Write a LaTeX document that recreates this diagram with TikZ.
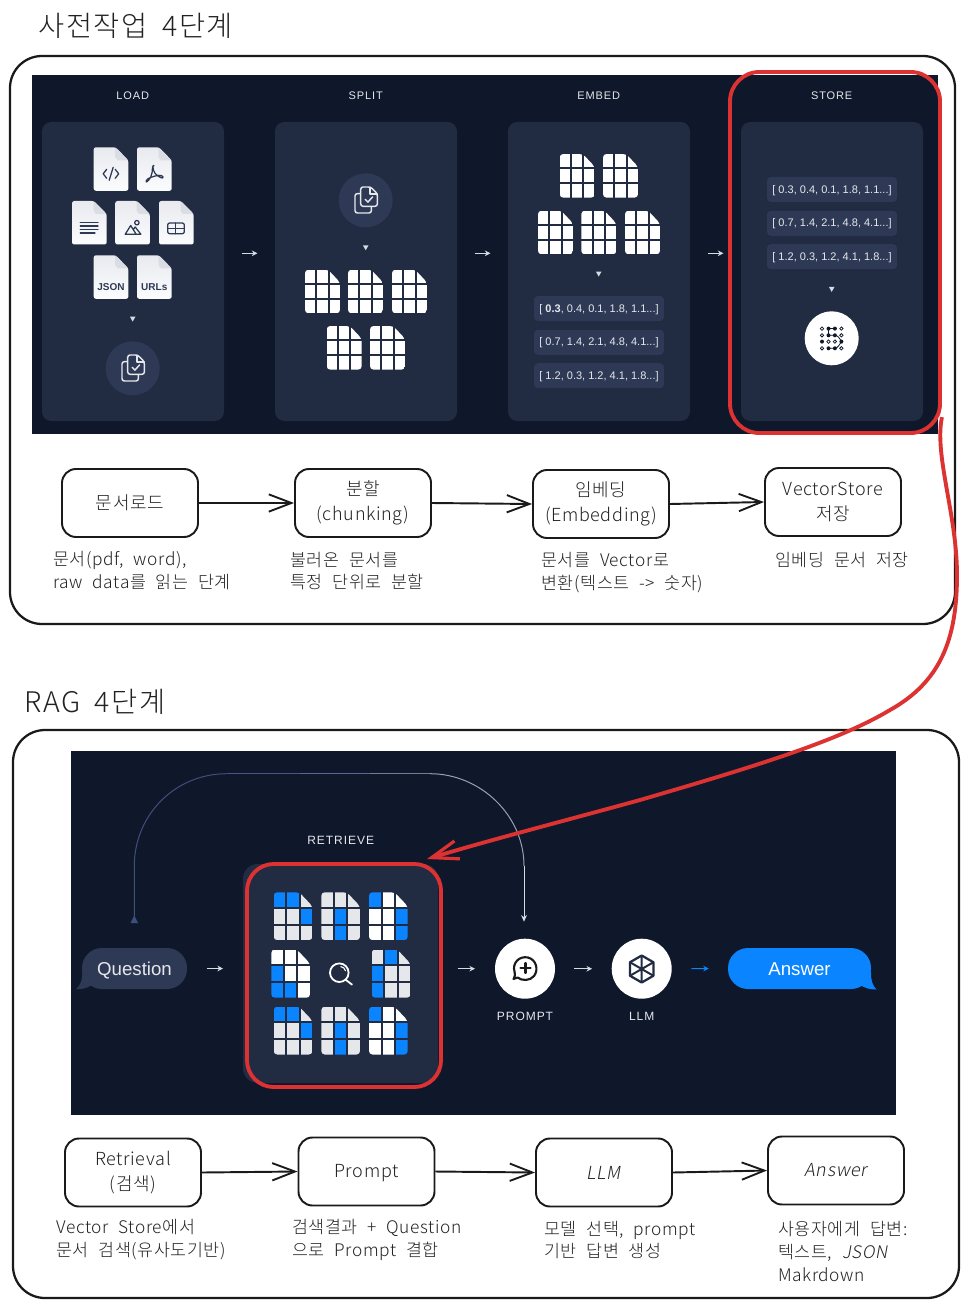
\documentclass[tikz,border=0pt]{standalone}
\usepackage{fontspec}
\usetikzlibrary{arrows.meta}
\setmainfont{Noto Sans CJK KR}
\newfontfamily\uifont{Liberation Sans}
\newfontfamily\capsfont[LetterSpace=8]{Liberation Sans}
\newfontfamily\handfont[LetterSpace=3.5,WordSpace=2.2]{Noto Sans CJK KR Light}
\newfontfamily\headfont[LetterSpace=6,WordSpace=1.8]{Noto Sans CJK KR Light}
\newfontfamily\slantfont[FakeSlant=0.18,LetterSpace=3.5,WordSpace=2.2]{Noto Sans CJK KR Light}
\newcommand{\lowertxt}[2]{\raisebox{-#1}[\height][\depth]{#2}}
\definecolor{bgdark}{HTML}{0F172A}
\definecolor{panelc}{HTML}{212B42}
\definecolor{pillc}{HTML}{2E3A55}
\definecolor{blueb}{HTML}{0A84FF}
\definecolor{cellG}{HTML}{E5E7EB}
\definecolor{cellW}{HTML}{FFFFFF}
\definecolor{redm}{HTML}{DC3232}
\definecolor{ink}{HTML}{1A1A1A}
\definecolor{soft}{HTML}{222222}
\definecolor{lite}{HTML}{D5DAE3}
\definecolor{docT}{HTML}{FBFCFD}
\definecolor{docB}{HTML}{E8EAEF}
\definecolor{iconc}{HTML}{2E3A55}
\tikzset{
  frameline/.style={draw=ink,line width=1.7pt,rounded corners=24pt},
  panel/.style={fill=panelc,rounded corners=7pt,inner sep=0pt,minimum width=136.5pt,minimum height=224.25pt},
  pill/.style={fill=pillc,rounded corners=3pt,inner sep=0pt,minimum width=97.5pt,minimum height=18.75pt,text=cellG,font=\uifont\fontsize{8.25}{10}\selectfont},
  capslabel/.style={text=cellG,font=\capsfont\fontsize{8.25}{10}\selectfont,inner sep=0pt},
  capsbig/.style={text=cellG,font=\capsfont\fontsize{9}{11}\selectfont,inner sep=0pt},
  flowbox/.style={draw=ink,line width=1.45pt,rounded corners=10.5pt,minimum width=102pt,minimum height=51pt,inner sep=0pt,align=center,text=soft,font=\handfont\fontsize{13.5}{18.75}\selectfont},
  flowarrow/.style={draw=ink,line width=1.45pt,-{Straight Barb[length=17pt,width=13pt,line width=1.4pt]}},
  desc/.style={anchor=base west,inner sep=0pt,text=soft,font=\handfont\fontsize{13}{15}\selectfont},
  heading/.style={anchor=base west,inner sep=0pt,text=soft,font=\headfont\fontsize{21.3}{24}\selectfont},
  tinyarrow/.style={draw=lite,line width=0.8pt,-{Stealth[length=4.2pt,width=4.2pt]},shorten <=13pt,shorten >=13pt},
  redline/.style={draw=redm,line width=2.9pt},
  iconline/.style={draw=iconc,line width=0.95pt,line cap=round,line join=round},
  copyline/.style={draw=cellG,line width=1.1pt,line join=round,line cap=round},
  bubbletext/.style={text=cellG,font=\uifont\fontsize{14}{16}\selectfont,inner sep=0pt,rounded corners=15pt,minimum height=30.75pt},
  whitecirc/.style={circle,fill=white,inner sep=0pt,minimum size=45pt},
}
\newcommand{\docpage}[3]{%
  \begin{scope}[shift={(#1,#2)}]
    \shade[top color=docB,bottom color=docT,rounded corners=1.7pt] (0,0)--(22,0)--(34.7,13)--(34.7,43.5)--(0,43.5)--cycle;
    \fill[docB!85!iconc!100,opacity=.55] (21.5,0.3)--(34.5,13)--(24,13)--(21.5,10)--cycle;
    #3
  \end{scope}}
\newcommand{\griddoc}[5]{%
  \begin{scope}[shift={(#1,#2)}]
    \begin{scope}
      \clip[rounded corners=2.6pt] (0,0)--(#3*0.66,0)--(#3,#4*0.29)--(#3,#4)--(0,#4)--cycle;
      \foreach \cellc [count=\i from 0] in {#5} {
        \pgfmathtruncatemacro{\colm}{mod(\i,3)}
        \pgfmathtruncatemacro{\rowm}{int(\i/3)}
        \pgfmathsetmacro{\cellw}{(#3-4)/3}
        \pgfmathsetmacro{\cellh}{(#4-4)/3}
        \fill[\cellc] ({\colm*(\cellw+2)},{\rowm*(\cellh+2)}) rectangle ++(\cellw,\cellh);
      }
    \end{scope}
  \end{scope}}
\newcommand{\copyicon}[2]{%
  \begin{scope}[shift={(#1,#2)}]
    \draw[copyline,rounded corners=1.8pt] (-5,-6.7)--(-10.7,-6.7)--(-10.7,12.7)--(5.7,12.7)--(5.7,6);
    \draw[copyline,fill=pillc,rounded corners=1.8pt] (-5,-13.3)--(5,-13.3)--(11.7,-6.5)--(11.7,6)--(-5,6)--cycle;
    \draw[copyline] (4.5,-13)--(4.5,-6.5)--(11.5,-6.5);
    \draw[copyline] (-0.5,-1)--(2.2,1.8)--(7,-3.5);
  \end{scope}}
\newcommand{\downtri}[2]{%
  \fill[lite] ({#1-2.8},{#2-2.4})--({#1+2.8},{#2-2.4})--(#1,{#2+2.6})--cycle;}
\begin{document}
\begin{tikzpicture}[x=0.75pt,y=-0.75pt]
\useasboundingbox (0,0) rectangle (969,1308);
\fill[white] (0,0) rectangle (969,1308);

% ---- headings and frames
\node[heading] (h1) at (38,37) {사전작업 4단계};
\node[heading] (h2) at (24,712) {RAG 4단계};
\draw[frameline] (10,56) rectangle (955,624);
\draw[frameline] (13,730) rectangle (959,1298);

% ---- top dark picture
\fill[bgdark] (32,75) rectangle (938,434);
\node[panel] (load) at (133,271.5) {};
\node[panel] (split) at (366,271.5) {};
\node[panel] (embed) at (599,271.5) {};
\node[panel] (store) at (832,271.5) {};
\node[capslabel] (tload) at (132.7,95.5) {LOAD};
\node[capslabel] (tsplit) at (365.7,95.5) {SPLIT};
\node[capslabel] (tembed) at (598.7,95.5) {EMBED};
\node[capslabel] (tstore) at (831.7,95.5) {STORE};

\coordinate (arrowrow) at (0,253.3);
\draw[tinyarrow] (load.east |- arrowrow) -- (split.west |- arrowrow);
\draw[tinyarrow] (split.east |- arrowrow) -- (embed.west |- arrowrow);
\draw[tinyarrow] (embed.east |- arrowrow) -- (store.west |- arrowrow);

% LOAD documents
\docpage{93.7}{147.3}{%
  \draw[iconline] (13,22)--(9.5,26.5)--(13,31) (21.5,22)--(25,26.5)--(21.5,31) (19.5,20)--(15.5,33);}
\docpage{137}{147.3}{%
  \draw[iconline] (16,18.5) .. controls (14.5,21) and (17,28) .. (10.5,34) .. controls (8,36.5) and (8.5,31.5) .. (14,30) .. controls (20,28) and (24.5,27) .. (26,29.5) .. controls (27,32.5) and (21,29.5) .. (18,26) .. controls (15,22) and (16,16.5) .. (17,18.5);}
\docpage{72}{201}{%
  \draw[iconline] (8.3,21.7)--(26,21.7) (8.3,25)--(26,25) (8.3,28.3)--(26,28.3) (8.3,32)--(23,32);}
\docpage{115.2}{201}{%
  \draw[iconline] (10,33.3)--(15.5,24.5)--(21,33.3)--cycle (18.5,28)--(20,26)--(25.7,33.3)--(21,33.3);
  \draw[iconline] (21.7,21.7) circle[radius=2.2];}
\docpage{159}{201}{%
  \draw[iconline,rounded corners=1.5pt] (8.7,22) rectangle (25.3,32.7);
  \draw[iconline] (8.7,27.3)--(25.3,27.3) (16.7,27.3)--(16.7,32.7) (16.7,22)--(16.7,27.3);}
\docpage{93.7}{255.3}{\node[text=iconc,font=\uifont\bfseries\fontsize{7.5}{9}\selectfont,inner sep=0pt] (tjson) at (17.3,31.5) {JSON};}
\docpage{137}{255.3}{\node[text=iconc,font=\uifont\bfseries\fontsize{7.5}{9}\selectfont,inner sep=0pt] (turls) at (17.3,31.5) {URLs};}
\downtri{132.7}{319}
\fill[pillc] (132.7,368.3) circle[radius=27];
\copyicon{132.7}{368.3}

% SPLIT
\fill[pillc] (365.7,200.3) circle[radius=27];
\copyicon{365.7}{200.3}
\downtri{365.7}{247.7}
\griddoc{305}{269.7}{35}{43.6}{cellW,cellW,cellW,cellW,cellW,cellW,cellW,cellW,cellW}
\griddoc{348}{269.7}{35}{43.6}{cellW,cellW,cellW,cellW,cellW,cellW,cellW,cellW,cellW}
\griddoc{392}{269.7}{35}{43.6}{cellW,cellW,cellW,cellW,cellW,cellW,cellW,cellW,cellW}
\griddoc{326.7}{326}{35}{43.6}{cellW,cellW,cellW,cellW,cellW,cellW,cellW,cellW,cellW}
\griddoc{370}{326}{35}{43.6}{cellW,cellW,cellW,cellW,cellW,cellW,cellW,cellW,cellW}

% EMBED
\griddoc{559.7}{154}{35}{43.6}{cellW,cellW,cellW,cellW,cellW,cellW,cellW,cellW,cellW}
\griddoc{603}{154}{35}{43.6}{cellW,cellW,cellW,cellW,cellW,cellW,cellW,cellW,cellW}
\griddoc{538}{210.7}{35}{43.6}{cellW,cellW,cellW,cellW,cellW,cellW,cellW,cellW,cellW}
\griddoc{581.3}{210.7}{35}{43.6}{cellW,cellW,cellW,cellW,cellW,cellW,cellW,cellW,cellW}
\griddoc{625}{210.7}{35}{43.6}{cellW,cellW,cellW,cellW,cellW,cellW,cellW,cellW,cellW}
\downtri{598.7}{274}
\node[pill] (e1) at (599,308.5) {\lowertxt{0.6pt}{[ \textbf{0.3}, 0.4, 0.1, 1.8, 1.1...]}};
\node[pill] (e2) at (599,342.3) {\lowertxt{0.6pt}{[ 0.7, 1.4, 2.1, 4.8, 4.1...]}};
\node[pill] (e3) at (599,375.7) {\lowertxt{0.6pt}{[ 1.2, 0.3, 1.2, 4.1, 1.8...]}};

% STORE
\node[pill] (s1) at (832,189.5) {\lowertxt{0.6pt}{[ 0.3, 0.4, 0.1, 1.8, 1.1...]}};
\node[pill] (s2) at (832,223.3) {\lowertxt{0.6pt}{[ 0.7, 1.4, 2.1, 4.8, 4.1...]}};
\node[pill] (s3) at (832,256.7) {\lowertxt{0.6pt}{[ 1.2, 0.3, 1.2, 4.1, 1.8...]}};
\downtri{831.7}{289.3}
\node[whitecirc,minimum size=40.5pt] (vs) at (831.7,338.3) {};
\begin{scope}[shift={(831.7,338.3)}]
  \draw[bgdark,line width=0.6pt] (-3.2,-9.7)--(3.2,-9.7) (-3.2,-9.7)--(-3.2,-3)--(3.2,-3) .. controls (6,-3) and (8,0) .. (9.7,3.3) .. controls (8,6) and (6,10) .. (3.2,10)--(-3.2,10);
  \foreach \dx/\dy in {-3.2/-9.7,3.2/-9.7,-3.2/-3,3.2/-3,-9.7/3.3,9.7/3.3,-3.2/10,3.2/10}
    \fill[bgdark] (\dx,\dy) circle[radius=2];
  \foreach \dx/\dy in {-9.7/-9.7,9.7/-9.7,-9.7/-3,9.7/-3,-3.2/3.3,3.2/3.3,-9.7/10,9.7/10}
    \draw[bgdark,line width=0.55pt,fill=white] (\dx,\dy) circle[radius=1.7];
\end{scope}

% ---- top flow
\node[flowbox] (b1) at (130,503) {문서로드};
\node[flowbox] (b2) at (363,503) {분할\\(chunking)};
\node[flowbox] (b3) at (601,504) {임베딩\\(Embedding)};
\node[flowbox] (b4) at (833,502) {VectorStore\\저장};
\draw[flowarrow] (b1.east) -- (b2.west);
\draw[flowarrow] (b2.east) -- (b3.west);
\draw[flowarrow] (b3.east) -- (b4.west);
\node[desc] (d1a) at (53,565) {문서(pdf, word),};
\node[desc] (d1b) at (53,588) {raw data를 읽는 단계};
\node[desc] (d2a) at (290,566) {불러온 문서를};
\node[desc] (d2b) at (290,588.5) {특정 단위로 분할};
\node[desc] (d3a) at (541,566) {문서를 Vector로};
\node[desc] (d3b) at (541,589) {변환(텍스트 -> 숫자)};
\node[desc] (d4a) at (775,566) {임베딩 문서 저장};

% ---- bottom dark picture
\fill[bgdark] (71,751) rectangle (896,1115);
\node[panel,minimum width=146.25pt,minimum height=164.25pt,rounded corners=11pt] (ret) at (340.5,973.5) {};
\node[capsbig] (tret) at (340.7,840) {RETRIEVE};
\node[bubbletext,fill=pillc,minimum width=78.75pt] (question) at (134.5,968.5) {\lowertxt{1.3pt}{Question}};
\fill[pillc] (82.5,970) .. controls (82.5,981) and (80,986) .. (76,989) .. controls (82,989.7) and (87,988) .. (92,985) -- cycle;
\node[bubbletext,fill=blueb,text=white,minimum width=107.25pt] (answer) at (799.5,968.5) {\lowertxt{0.8pt}{Answer}};
\fill[blueb] (871,972) .. controls (871,980) and (872,985) .. (876.5,989.5) .. controls (870,989.7) and (865,988) .. (860,985) -- cycle;
\node[whitecirc] (prompt) at (525,968.7) {};
\node[whitecirc] (llm) at (641.7,968.7) {};
\node[capsbig] (tprompt) at (525,1016.7) {PROMPT};
\node[capsbig] (tllm) at (641.7,1016.7) {LLM};

\draw[tinyarrow,shorten <=14.5pt,shorten >=14.8pt] (question.east) -- (question.east -| ret.west);
\draw[tinyarrow,shorten <=14.5pt,shorten >=14.8pt] (ret.east |- prompt.west) -- (prompt.west);
\draw[tinyarrow,shorten <=14.2pt,shorten >=14.5pt] (prompt) -- (llm);
\draw[tinyarrow,draw=blueb,shorten <=14.5pt,shorten >=14.2pt,-{Stealth[length=4.2pt,width=4.2pt,color=blueb]}] (llm.east) -- (answer.west);

% looping connector
\coordinate (qtop) at (134.3,918);
\coordinate (ptop) at (524,921.7);
\fill[color={rgb,255:red,62;green,79;blue,124}] (134.3,915.5)--(138,923)--(130.6,923)--cycle;
\draw[color={rgb,255:red,62;green,79;blue,124},line width=0.75pt] (qtop) -- (134.3,866) .. controls (134.3,815) and (175,773.7) .. (226.7,773.7);
\draw[color={rgb,255:red,70;green,86;blue,130},line width=0.75pt] (226.7,773.7) -- (300,773.7);
\draw[color={rgb,255:red,88;green,103;blue,142},line width=0.75pt] (300,773.7) -- (370,773.7);
\draw[color={rgb,255:red,112;green,125;blue,158},line width=0.75pt] (370,773.7) -- (430,773.7);
\draw[color={rgb,255:red,150;green,160;blue,182},line width=0.75pt] (430,773.7) .. controls (480,773.7) and (524,815) .. (524,866);
\draw[color=lite,line width=0.75pt,-{Stealth[length=5pt,width=4.4pt]}] (524,866) -- (ptop);

% RETRIEVE documents
\griddoc{273.7}{892.3}{38.7}{47.8}{blueb,blueb,cellG,cellG,cellG,blueb,cellG,cellG,cellG}
\griddoc{321.3}{892.3}{38.7}{47.8}{cellG,cellG,cellG,cellG,blueb,cellG,cellG,blueb,cellG}
\griddoc{369}{892.3}{38.7}{47.8}{blueb,cellW,cellW,cellW,cellW,blueb,cellW,cellW,blueb}
\griddoc{271.3}{949.5}{38.7}{48.2}{cellW,cellW,cellW,blueb,cellW,cellW,blueb,blueb,cellW}
\griddoc{371.7}{949.5}{38.7}{48.2}{cellG,blueb,cellG,blueb,cellG,cellG,blueb,cellG,cellG}
\griddoc{273.7}{1006.7}{38.7}{47.8}{blueb,blueb,cellG,cellG,cellG,blueb,cellG,cellG,cellG}
\griddoc{321.3}{1006.7}{38.7}{47.8}{cellG,cellG,cellG,cellG,blueb,cellG,cellG,blueb,cellG}
\griddoc{369}{1006.7}{38.7}{47.8}{blueb,cellW,cellW,cellW,cellW,blueb,cellW,cellW,blueb}
% magnifier
\draw[white,line width=1.35pt,line cap=round] (339.3,972.7) circle[radius=9.3] (346,980)--(352,984.6);
\draw[white,line width=0.8pt] (340.5,966.5) .. controls (343,966.7) and (345,968.5) .. (345.6,971);

% prompt icon
\begin{scope}[shift={(525,968.5)}]
  \draw[ink,line width=1.6pt,line join=round] (-7.5,9) .. controls (-3,12.5) and (5,12.5) .. (9,7.5) .. controls (14,1) and (11,-9) .. (3,-11) .. controls (-6,-13) and (-13,-5) .. (-10.5,3) .. controls (-10,5) and (-9.5,7) .. (-11.5,10.5) -- (-7.5,9) -- cycle;
  \draw[ink,line width=1.6pt,line cap=round] (-4.5,-0.5)--(5.5,-0.5) (0.5,-5.5)--(0.5,4.5);
\end{scope}
% llm icon
\begin{scope}[shift={(641.7,969)}]
  \draw[panelc,line width=1.7pt,line join=round] (0,-13.5)--(11.7,-6.75)--(11.7,6.75)--(0,13.5)--(-11.7,6.75)--(-11.7,-6.75)--cycle;
  \draw[panelc,line width=1.5pt] (0,-13.5)--(0,13.5) (-11.7,-6.75)--(11.7,6.75) (-11.7,6.75)--(11.7,-6.75);
\end{scope}

% ---- bottom flow
\node[flowbox] (c1) at (133,1172.5) {Retrieval\\(검색)};
\node[flowbox] (c2) at (366.5,1171.5) {\lowertxt{1.5pt}{Prompt}};
\node[flowbox] (c3) at (604,1172.5) {\slantfont LLM};
\node[flowbox] (c4) at (836,1170.5) {\slantfont Answer};
\draw[flowarrow] (c1.east) -- (c2.west);
\draw[flowarrow] (c2.east) -- (c3.west);
\draw[flowarrow] (c3.east) -- (c4.west);
\node[desc] (e1a) at (56,1233.5) {Vector Store에서};
\node[desc] (e1b) at (56,1256.5) {문서 검색(유사도기반)};
\node[desc] (e2a) at (292,1233.5) {검색결과 + Question};
\node[desc] (e2b) at (292,1256.5) {으로 Prompt 결합};
\node[desc] (e3a) at (544,1235.5) {모델 선택, prompt};
\node[desc] (e3b) at (544,1257.5) {기반 답변 생성};
\node[desc] (e4a) at (778,1235.5) {사용자에게 답변:};
\node[desc] (e4b) at (778,1258.5) {텍스트, {\slantfont JSON}};
\node[desc] (e4c) at (778,1281.5) {Makrdown};

% ---- red annotations
\node[redline,rounded corners=22pt,minimum width=157.5pt,minimum height=270.75pt,inner sep=0pt] (redstore) at (835,252.5) {};
\node[redline,rounded corners=20pt,minimum width=145.5pt,minimum height=167.25pt,inner sep=0pt] (redret) at (344,975.5) {};
\coordinate (redtip) at (427,859);
\draw[redline,-{Straight Barb[length=20pt,width=14pt,line width=2.4pt]}] (redstore.-57) .. controls (934,455) and (957,515) .. (957,575) .. controls (957,640) and (940,682) .. (890,710) .. controls (840,740) and (760,765) .. (640,800) .. controls (560,822) and (490,840) .. (redtip);
\end{tikzpicture}
\end{document}
